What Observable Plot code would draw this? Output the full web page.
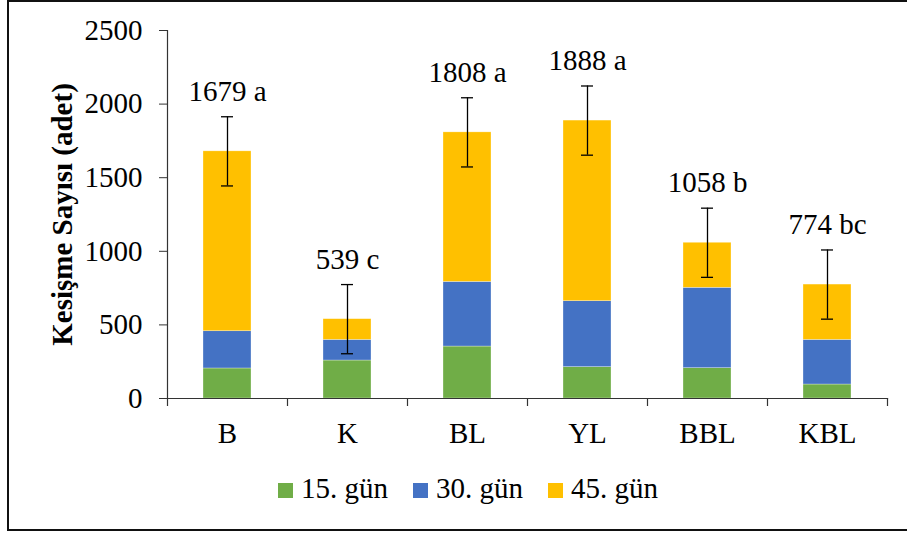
<!DOCTYPE html>
<html><head><meta charset="utf-8">
<script src="https://cdn.jsdelivr.net/npm/d3@7"></script>
<script src="https://cdn.jsdelivr.net/npm/@observablehq/plot@0.6"></script>
<style>
body{margin:0;background:#fff;}
#wrap{position:relative;width:907px;height:534px;overflow:hidden;font-family:"Liberation Serif","Times New Roman",serif;color:#000;}
#frame{position:absolute;left:7px;top:0;width:930px;height:531px;border:2px solid #111;box-sizing:border-box;}
#chart{position:absolute;left:0;top:0;}
#legend{position:absolute;left:278px;top:474px;display:flex;align-items:center;font-size:29px;line-height:1;}
.item{display:flex;align-items:center;margin-right:25px;}
.sw{width:15px;height:15px;margin-right:8px;position:relative;top:2px;}
</style>
</head><body>
<div id="wrap"><div id="frame"></div><div id="chart"></div><div id="legend"></div></div>
<script>
const categories = ["B","K","BL","YL","BBL","KBL"];
const series = ["15. gün","30. gün","45. gün"];
const day15 = [204,258,353,213,206,95];
const day30 = [253,140,439,448,546,303];
const day45 = [1222,141,1016,1227,306,376];
const totals = [1679,539,1808,1888,1058,774];
const errors = [235,235,235,235,235,235];
const letters = ["a","c","a","a","b","bc"];
const colors = ["#70AD47","#4472C4","#FFC000"];
const yTicks = [0,500,1000,1500,2000,2500];

const seriesValues = [day15, day30, day45];
const rows = [];
series.forEach((s, si) => categories.forEach((c, ci) => rows.push({cat: c, series: s, value: seriesValues[si][ci]})));
const tot = categories.map((c, i) => ({cat: c, total: totals[i], err: errors[i], letter: letters[i]}));

const font = "Liberation Serif, Times New Roman, serif";
const half = (887 - 167) / categories.length / 2;

const chart = Plot.plot({
  width: 907, height: 460,
  marginLeft: 167, marginRight: 20, marginTop: 30, marginBottom: 62,
  style: {fontFamily: font, fontSize: "29px", color: "#000", background: "transparent"},
  x: {domain: categories, paddingInner: 0.6, paddingOuter: 0.3, label: null},
  y: {domain: [0, 2500], label: null},
  color: {domain: series, range: colors},
  marks: [
    Plot.barY(rows, {x: "cat", y: "value", fill: "series", order: series, stroke: "#fff", strokeWidth: 0.6, strokeOpacity: 0.5}),
    Plot.frame({anchor: "left", stroke: "#333", strokeWidth: 1.2}),
    Plot.frame({anchor: "bottom", stroke: "#333", strokeWidth: 1.2}),
    Plot.axisY({ticks: yTicks, tickFormat: d => String(d), tickSize: 8, tickPadding: 17, label: null, fontSize: 29, fontFamily: font, stroke: "#333"}),
    Plot.axisX({tickSize: 0, tickPadding: 24, label: null, fontSize: 29, fontFamily: font}),
    Plot.ruleX(categories, {x: d => d, dx: -half, y1: 0, y2: 0, insetBottom: -8, stroke: "#333", strokeWidth: 1.2}),
    Plot.ruleX(categories.slice(-1), {x: d => d, dx: half, y1: 0, y2: 0, insetBottom: -8, stroke: "#333", strokeWidth: 1.2}),
    Plot.ruleX(tot, {x: "cat", y1: d => d.total - d.err, y2: d => d.total + d.err, stroke: "#000", strokeWidth: 1.3}),
    Plot.tickY(tot, {x: "cat", y: d => d.total - d.err, insetLeft: 18, insetRight: 18, stroke: "#000", strokeWidth: 1.3}),
    Plot.tickY(tot, {x: "cat", y: d => d.total + d.err, insetLeft: 18, insetRight: 18, stroke: "#000", strokeWidth: 1.3}),
    Plot.text(tot, {x: "cat", y: d => d.total + d.err, text: d => `${d.total} ${d.letter}`, dy: -25, fontSize: 29, fontFamily: font, fill: "#000"}),
    Plot.text(["Kesişme Sayısı (adet)"], {frameAnchor: "left", textAnchor: "middle", lineAnchor: "middle", rotate: -90, dx: -105, fontWeight: "bold", fontSize: 29, fontFamily: font, fill: "#000"})
  ]
});
d3.select(chart).attr("font-family", font);
d3.select(chart).selectAll("text").attr("font-family", font);
document.getElementById("chart").appendChild(chart);

const legend = document.getElementById("legend");
series.forEach((s, i) => {
  const item = document.createElement("div");
  item.className = "item";
  const sw = document.createElement("div");
  sw.className = "sw";
  sw.style.background = colors[i];
  const t = document.createElement("span");
  t.textContent = s;
  item.appendChild(sw); item.appendChild(t);
  legend.appendChild(item);
});
</script>
</body></html>
